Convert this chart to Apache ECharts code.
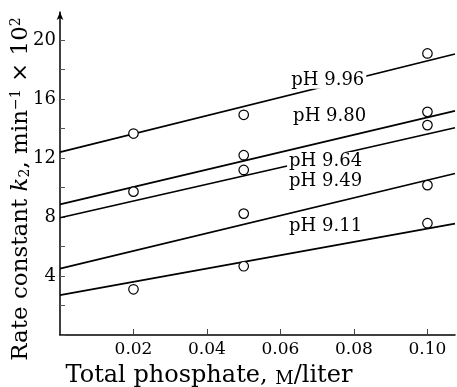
<!DOCTYPE html>
<html><head><meta charset="utf-8">
<script src="https://cdn.jsdelivr.net/npm/echarts@6/dist/echarts.min.js"></script>
<style>html,body{margin:0;padding:0;background:#fff}#c{width:457px;height:387px}</style>
</head><body><div id="c"></div>
<script>
// ---- data ----
const phosphate = [0.02, 0.05, 0.10];
const seriesNames = ['pH 9.96', 'pH 9.80', 'pH 9.64', 'pH 9.49', 'pH 9.11'];
const obs996 = [13.66, 14.93, 19.09];
const obs980 = [9.72, 12.19, 15.13];
const obs964 = [null, 11.19, 14.23];
const obs949 = [null, 8.23, 10.16];
const obs911 = [3.10, 4.66, 7.58];
const fitX = [0, 0.1075];
const fit996 = [12.4, 19.05];
const fit980 = [8.86, 15.2];
const fit964 = [7.95, 14.05];
const fit949 = [4.5, 10.95];
const fit911 = [2.7, 7.55];
const xTicks = [0.02, 0.04, 0.06, 0.08, 0.10];
const yTicks = [4, 8, 12, 16, 20];

const obs = [obs996, obs980, obs964, obs949, obs911];
const fits = [fit996, fit980, fit964, fit949, fit911];
// label anchor points (data space)
const labelAnchors = [[0.0624, 17.3], [0.0629, 14.8], [0.0618, 11.8], [0.0618, 10.39], [0.0618, 7.4]];

const FONT = '"DejaVu Serif", "Liberation Serif", serif';
const series = [];
fits.forEach((f, i) => {
  series.push({
    type: 'line', name: seriesNames[i] + ' fit', z: 2,
    data: fitX.map((x, k) => [x, f[k]]),
    showSymbol: false, symbol: 'none', silent: true,
    lineStyle: { color: '#000', width: 1.7 }
  });
});
obs.forEach((o, i) => {
  series.push({
    type: 'scatter', name: seriesNames[i], z: 5,
    data: phosphate.map((x, k) => o[k] == null ? null : [x, o[k]]).filter(d => d),
    symbol: 'circle', symbolSize: 9.5,
    itemStyle: { color: '#fff', borderColor: '#000', borderWidth: 1.2, opacity: 1 }
  });
});

const titleGraphics = [
  {
    type: 'text', x: 21, y: 189, rotation: Math.PI / 2, z: 50,
    style: {
      text: 'Rate constant {i|k}{sub|2}, min{sup|−1} × 10{sup|2}',
      fontFamily: FONT, fontSize: 23, fill: '#000',
      align: 'center', verticalAlign: 'middle',
      rich: {
        i: { fontFamily: FONT, fontSize: 23, fontStyle: 'italic', fill: '#000' },
        sub: { fontFamily: FONT, fontSize: 14, verticalAlign: 'bottom', fill: '#000' },
        sup: { fontFamily: FONT, fontSize: 14, verticalAlign: 'top', fill: '#000' }
      }
    }
  },
  {
    type: 'text', x: 209, y: 376, z: 50,
    style: {
      text: 'Total phosphate, {sc|M}/liter',
      fontFamily: FONT, fontSize: 24, fill: '#000',
      align: 'center', verticalAlign: 'middle',
      rich: { sc: { fontFamily: FONT, fontSize: 18, fill: '#000', verticalAlign: 'bottom' } }
    }
  }
];

const chart = echarts.init(document.getElementById('c'), null, { renderer: 'canvas' });
chart.setOption({
  animation: false,
  backgroundColor: '#fff',
  grid: { left: 60, right: 2, top: 12, bottom: 52 },
  xAxis: {
    type: 'value', min: 0, max: 0.1075, interval: 0.02,
    axisLine: { lineStyle: { color: '#000', width: 1.5 } },
    axisTick: { inside: true, length: 6, lineStyle: { color: '#444', width: 1 } },
    splitLine: { show: false },
    axisLabel: {
      margin: 6, color: '#000', fontFamily: FONT, fontSize: 17,
      showMaxLabel: false, showMinLabel: false,
      formatter: v => xTicks.some(t => Math.abs(t - v) < 1e-6) ? v.toFixed(2) : ''
    }
  },
  yAxis: {
    type: 'value', min: 0, max: 21.9, interval: 2,
    axisLine: { lineStyle: { color: '#000', width: 1.5 }, symbol: ['none', 'arrow'], symbolSize: [5, 8] },
    axisTick: { inside: true, length: 5, lineStyle: { color: '#555', width: 1 } },
    splitLine: { show: false },
    axisLabel: {
      margin: 4, color: '#000', fontFamily: FONT, fontSize: 18,
      showMaxLabel: false,
      formatter: v => yTicks.indexOf(Math.round(v)) >= 0 && Math.abs(v - Math.round(v)) < 1e-6 ? String(v) : ''
    }
  },
  graphic: titleGraphics,
  series: series
});

// series labels placed at data-space anchors, with white boxes that mask the lines
const labelGraphics = labelAnchors.map((p, i) => {
  const px = chart.convertToPixel({ gridIndex: 0 }, p);
  return {
    type: 'text', x: px[0], y: px[1], z: 20,
    style: {
      text: seriesNames[i], fontFamily: FONT, fontSize: 18, fill: '#000',
      align: 'left', verticalAlign: 'middle',
      backgroundColor: '#fff', padding: [0, 2, 0, 2]
    }
  };
});
chart.setOption({ graphic: titleGraphics.concat(labelGraphics) });
</script></body></html>
